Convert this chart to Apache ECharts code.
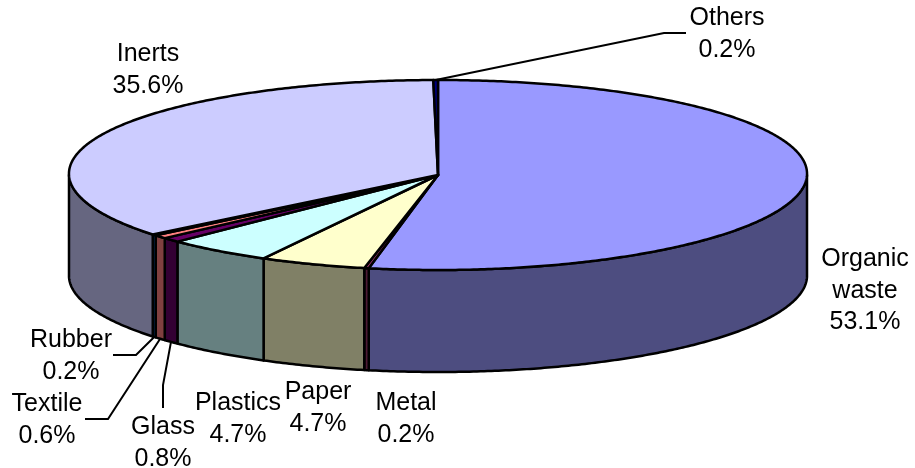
<!DOCTYPE html>
<html>
<head>
<meta charset="utf-8">
<style>html,body{margin:0;padding:0;background:#fff}#chart{width:915px;height:468px}</style>
<script src="https://cdn.jsdelivr.net/npm/echarts@6/dist/echarts.min.js"></script>
</head>
<body>
<div id="chart"></div>
<script>
// Waste composition by share, clockwise from twelve o'clock
const categories = ['Organic\nwaste', 'Metal', 'Paper', 'Plastics', 'Glass', 'Textile', 'Rubber', 'Inerts', 'Others'];
const shares = [53.1, 0.2, 4.7, 4.7, 0.8, 0.6, 0.2, 35.6, 0.2];
const topColors = ['#9999FF', '#993366', '#FFFFCC', '#CCFFFF', '#660066', '#FF8080', '#0066CC', '#CCCCFF', '#000080'];
const wallColors = ['#4D4D80', '#4D1A33', '#808066', '#668080', '#330033', '#804040', '#003366', '#666680', '#000040'];

// Disc geometry of the tilted pie; taper narrows the near half slightly
const pie = { cx: 438, cy: 175, rx: 369, ry: 95, depth: 102, taper: 0.014 };

// Label centres and elbow routes for the callouts
const labelCentres = [[865, 291], [406, 419], [318, 408], [238, 419], [163, 443], [47, 420], [71, 356], [148, 70], [727, 34]];
const elbows = [null, null, null, null, [[163, 408], [163, 385]], [[85, 419], [108, 419]], [[113, 355], [136, 355]], null, [[686, 33], [664, 33]]];

const total = shares.reduce((a, b) => a + b, 0);
const startShare = [];
shares.reduce((sum, v, i) => (startShare[i] = sum, sum + v), 0);

const toAngle = s => (s / total) * Math.PI * 2;
const rimPoint = (t, drop) => [
  pie.cx + pie.rx * Math.sin(t) * (1 + pie.taper * Math.cos(t)),
  pie.cy - pie.ry * Math.cos(t) + (drop || 0)
];
function arc(from, to, drop) {
  const steps = Math.max(2, Math.ceil(Math.abs(to - from) / 0.01));
  const pts = [];
  for (let k = 0; k <= steps; k++) pts.push(rimPoint(from + (to - from) * k / steps, drop));
  return pts;
}
const line = { stroke: '#000', lineWidth: 2.5, lineJoin: 'round' };

function renderWall(params, api) {
  const s = api.value(1), i = params.dataIndex;
  const a = Math.max(toAngle(startShare[i]), Math.PI / 2);
  const b = Math.min(toAngle(startShare[i] + s), Math.PI * 1.5);
  if (b <= a) return { type: 'group', children: [] };
  const points = arc(a, b, 0).concat(arc(b, a, pie.depth));
  return { type: 'polygon', shape: { points }, style: Object.assign({ fill: wallColors[i] }, line) };
}

function renderTop(params, api) {
  const s = api.value(1), i = params.dataIndex;
  const points = [[pie.cx, pie.cy]].concat(arc(toAngle(startShare[i]), toAngle(startShare[i] + s), 0));
  return { type: 'polygon', shape: { points }, style: Object.assign({ fill: topColors[i] }, line) };
}

function renderLabel(params, api) {
  const s = api.value(1), i = params.dataIndex;
  const [x, y] = labelCentres[i];
  const children = [{
    type: 'text',
    style: {
      text: categories[i] + '\n' + s.toFixed(1) + '%',
      x, y,
      align: 'center',
      verticalAlign: 'middle',
      fill: '#000',
      font: '25px "Liberation Sans"',
      lineHeight: 31.5
    }
  }];
  if (elbows[i]) {
    const t = toAngle(startShare[i] + s / 2);
    const onFront = Math.cos(t) < 0;
    const anchor = rimPoint(t, onFront ? pie.depth : 0);
    children.push({
      type: 'polyline',
      shape: { points: elbows[i].concat([anchor]) },
      style: { stroke: '#000', lineWidth: 2, fill: null }
    });
  }
  return { type: 'group', children };
}

const seriesData = shares.map((v, i) => [i, v]);
const chart = echarts.init(document.getElementById('chart'), null, { renderer: 'canvas' });
chart.setOption({
  animation: false,
  backgroundColor: '#fff',
  series: [
    { type: 'custom', coordinateSystem: 'none', z: 1, silent: true, data: seriesData, renderItem: renderWall },
    { type: 'custom', coordinateSystem: 'none', z: 2, silent: true, data: seriesData, renderItem: renderTop },
    { type: 'custom', coordinateSystem: 'none', z: 3, silent: true, data: seriesData, renderItem: renderLabel }
  ]
});
</script>
</body>
</html>
